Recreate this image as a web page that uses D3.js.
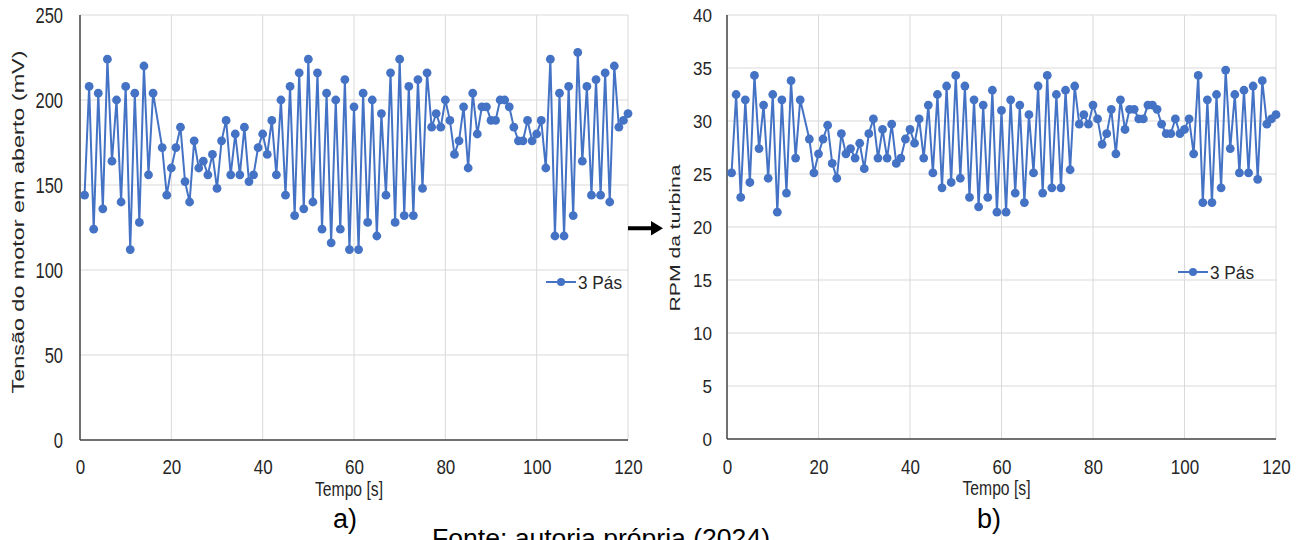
<!DOCTYPE html>
<html>
<head>
<meta charset="utf-8" />
<script src="https://d3js.org/d3.v7.min.js"></script>
<style>
  body { margin: 0; background: #fff; }
  svg { display: block; font-family: "Liberation Sans", Arial, sans-serif; }
  .grid line { stroke: #d9d9d9; stroke-width: 1; }
  .axisline { stroke: #404040; stroke-width: 1.5; }
  .series { fill: none; stroke: #4472c4; stroke-width: 2; }
  .dot { fill: #4472c4; }
  .tick text { fill: #262626; }
</style>
</head>
<body>
<svg id="chart" width="1309" height="540"></svg>
<script>
// sample times (s) - no sample at 17 s
const tempo = [1, 2, 3, 4, 5, 6, 7, 8, 9, 10, 11, 12, 13, 14, 15, 16,
  18, 19, 20, 21, 22, 23, 24, 25, 26, 27, 28, 29, 30, 31, 32, 33, 34, 35, 36, 37, 38, 39, 40,
  41, 42, 43, 44, 45, 46, 47, 48, 49, 50, 51, 52, 53, 54, 55, 56, 57, 58, 59, 60,
  61, 62, 63, 64, 65, 66, 67, 68, 69, 70, 71, 72, 73, 74, 75, 76, 77, 78, 79, 80,
  81, 82, 83, 84, 85, 86, 87, 88, 89, 90, 91, 92, 93, 94, 95, 96, 97, 98, 99, 100,
  101, 102, 103, 104, 105, 106, 107, 108, 109, 110, 111, 112, 113, 114, 115, 116, 117, 118, 119, 120];

// a) open-circuit motor voltage (mV)
const tensao = [144, 208, 124, 204, 136, 224, 164, 200, 140, 208, 112, 204, 128, 220, 156, 204,
  172, 144, 160, 172, 184, 152, 140, 176, 160, 164, 156, 168, 148, 176, 188, 156, 180, 156, 184, 152, 156, 172, 180,
  168, 188, 156, 200, 144, 208, 132, 216, 136, 224, 140, 216, 124, 204, 116, 200, 124, 212, 112, 196,
  112, 204, 128, 200, 120, 192, 144, 216, 128, 224, 132, 208, 132, 212, 148, 216, 184, 192, 184, 200,
  188, 168, 176, 196, 160, 204, 180, 196, 196, 188, 188, 200, 200, 196, 184, 176, 176, 188, 176, 180,
  188, 160, 224, 120, 204, 120, 208, 132, 228, 164, 208, 144, 212, 144, 216, 140, 220, 184, 188, 192];

// b) turbine RPM
const rpm = [25.1, 32.5, 22.8, 32.0, 24.2, 34.3, 27.4, 31.5, 24.6, 32.5, 21.4, 32.0, 23.2, 33.8, 26.5, 32.0,
  28.3, 25.1, 26.9, 28.3, 29.6, 26.0, 24.6, 28.8, 26.9, 27.4, 26.5, 27.9, 25.5, 28.8, 30.2, 26.5, 29.2, 26.5, 29.7, 26.0, 26.5, 28.3, 29.2,
  27.9, 30.2, 26.5, 31.5, 25.1, 32.5, 23.7, 33.3, 24.2, 34.3, 24.6, 33.3, 22.8, 32.0, 21.9, 31.5, 22.8, 32.9, 21.4, 31.0,
  21.4, 32.0, 23.2, 31.5, 22.3, 30.6, 25.1, 33.3, 23.2, 34.3, 23.7, 32.5, 23.7, 32.9, 25.4, 33.3, 29.7, 30.6, 29.7, 31.5,
  30.2, 27.8, 28.8, 31.1, 26.9, 32.0, 29.2, 31.1, 31.1, 30.2, 30.2, 31.5, 31.5, 31.1, 29.7, 28.8, 28.8, 30.2, 28.8, 29.2,
  30.2, 26.9, 34.3, 22.3, 32.0, 22.3, 32.5, 23.7, 34.8, 27.4, 32.5, 25.1, 32.9, 25.1, 33.3, 24.5, 33.8, 29.7, 30.2, 30.6];

const xTicks = [0, 20, 40, 60, 80, 100, 120];
const yTicksA = [0, 50, 100, 150, 200, 250];
const yTicksB = [0, 5, 10, 15, 20, 25, 30, 35, 40];
const seriesName = "3 Pás";

const svg = d3.select("#chart");
svg.append("rect").attr("width", 1309).attr("height", 540).attr("fill", "#fff");

function drawPanel(opt) {
  const x = d3.scaleLinear().domain([0, 120]).range([opt.left, opt.right]);
  const y = d3.scaleLinear().domain([0, opt.ymax]).range([opt.bottom, opt.top]);
  const g = svg.append("g");

  // grid
  g.append("g").attr("class", "grid")
    .selectAll("line").data(opt.yTicks.slice(1)).join("line")
    .attr("x1", opt.left).attr("x2", opt.right)
    .attr("y1", d => y(d)).attr("y2", d => y(d));
  g.append("g").attr("class", "grid")
    .selectAll("line").data(xTicks.slice(1)).join("line")
    .attr("x1", d => x(d)).attr("x2", d => x(d))
    .attr("y1", opt.top).attr("y2", opt.bottom);

  // axes (labels only, lines drawn by hand)
  const ya = g.append("g").attr("transform", `translate(${opt.left},0)`)
    .call(d3.axisLeft(y).tickValues(opt.yTicks).tickSize(0));
  ya.select(".domain").remove();
  ya.selectAll("text")
    .style("font-size", opt.yFont + "px")
    .attr("x", -opt.yGap / opt.ySx)
    .attr("dy", "0.36em")
    .attr("transform", `scale(${opt.ySx},1)`);

  const xa = g.append("g").attr("transform", `translate(0,${opt.bottom})`)
    .call(d3.axisBottom(x).tickValues(xTicks).tickSize(0));
  xa.select(".domain").remove();
  xa.selectAll("text")
    .style("font-size", "20px")
    .attr("y", opt.xLabelY).attr("dy", null)
    .attr("x", 0)
    .attr("transform", "scale(0.85,1)");

  g.append("line").attr("class", "axisline")
    .attr("x1", opt.left).attr("x2", opt.left).attr("y1", opt.top).attr("y2", opt.bottom);
  g.append("line").attr("class", "axisline")
    .attr("x1", opt.left).attr("x2", opt.right).attr("y1", opt.bottom).attr("y2", opt.bottom);

  // series
  const pts = tempo.map((t, i) => [t, opt.values[i]]);
  g.append("path").attr("class", "series")
    .attr("d", d3.line().x(d => x(d[0])).y(d => y(d[1]))(pts));
  g.append("g").selectAll("circle").data(pts).join("circle")
    .attr("class", "dot").attr("r", 4.4)
    .attr("cx", d => x(d[0])).attr("cy", d => y(d[1]));

  // axis titles
  g.append("text")
    .attr("transform", `translate(${opt.titleX},${opt.titleY}) rotate(-90)`)
    .attr("text-anchor", "middle")
    .attr("textLength", opt.titleLen).attr("lengthAdjust", "spacingAndGlyphs")
    .style("font-size", opt.titleFont + "px").attr("fill", "#262626")
    .text(opt.title);
  g.append("text")
    .attr("x", (opt.left + opt.right) / 2 - 5).attr("y", opt.bottom + 56)
    .attr("text-anchor", "middle")
    .attr("textLength", 68).attr("lengthAdjust", "spacingAndGlyphs")
    .style("font-size", "20px").attr("fill", "#262626")
    .text("Tempo [s]");

  // legend
  const lg = g.append("g");
  lg.append("line").attr("class", "series")
    .attr("x1", opt.legX).attr("x2", opt.legX + 30).attr("y1", opt.legY).attr("y2", opt.legY);
  lg.append("circle").attr("class", "dot").attr("r", 4)
    .attr("cx", opt.legX + 15).attr("cy", opt.legY);
  lg.append("text")
    .attr("x", opt.legX + 32).attr("y", opt.legY + 7)
    .attr("textLength", 44).attr("lengthAdjust", "spacingAndGlyphs")
    .style("font-size", "19px").attr("fill", "#262626")
    .text(seriesName);

  // panel letter
  g.append("text")
    .attr("x", opt.capX).attr("y", 528)
    .attr("text-anchor", "middle")
    .style("font-size", "27px").attr("fill", "#000")
    .text(opt.caption);
}

drawPanel({
  values: tensao, ymax: 250, yTicks: yTicksA,
  left: 80, right: 628, top: 15, bottom: 440,
  yFont: 22, ySx: 0.75, yGap: 17, xLabelY: 34,
  title: "Tensão do motor em aberto (mV)", titleX: 24, titleY: 222, titleLen: 343, titleFont: 16,
  legX: 546, legY: 282, capX: 345, caption: "a)"
});

drawPanel({
  values: rpm, ymax: 40, yTicks: yTicksB,
  left: 727, right: 1276, top: 15, bottom: 439,
  yFont: 19, ySx: 0.9, yGap: 15, xLabelY: 35,
  title: "RPM da turbina", titleX: 680, titleY: 238, titleLen: 147, titleFont: 15,
  legX: 1178, legY: 272, capX: 989, caption: "b)"
});

// arrow between the panels
svg.append("path")
  .attr("d", "M628,226.3 L651,226.3 L651,221 L663,228.3 L651,235.6 L651,230.3 L628,230.3 Z")
  .attr("fill", "#000");

// source line, cut by the bottom edge as in the original figure
svg.append("text")
  .attr("x", 432).attr("y", 547)
  .attr("textLength", 338).attr("lengthAdjust", "spacingAndGlyphs")
  .style("font-size", "26.5px").attr("fill", "#000")
  .text("Fonte: autoria própria (2024)");
</script>
</body>
</html>
